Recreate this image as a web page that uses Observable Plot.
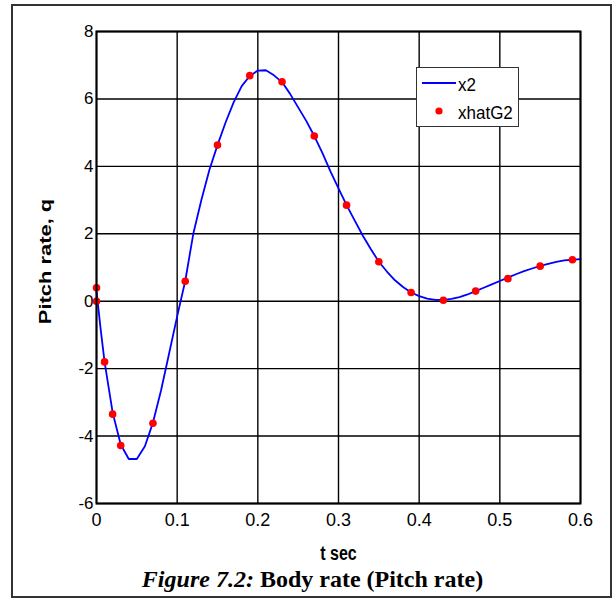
<!DOCTYPE html>
<html>
<head>
<meta charset="utf-8">
<script src="https://cdn.jsdelivr.net/npm/d3@7"></script>
<script src="https://cdn.jsdelivr.net/npm/@observablehq/plot@0.6"></script>
<style>
  body { margin: 0; background: #fff; }
  #wrap { position: relative; width: 613px; height: 601px; overflow: hidden; font-family: "Liberation Sans", Arial, sans-serif; }
  #border { position: absolute; left: 11px; top: 4px; width: 601px; height: 594px; border: 2px solid #333; box-sizing: border-box; }
  #chart { position: absolute; left: 0; top: 0; }
  #legend { position: absolute; left: 416px; top: 67px; width: 103px; height: 60px; border: 1.5px solid #333; box-sizing: border-box; background: #fff; }
  #legend svg { position: absolute; left: 0; top: 0; }
  .lt { position: absolute; left: 41px; font-size: 17px; color: #000; line-height: 20px; transform: scaleY(1.1); transform-origin: left center; }
  #caption { position: absolute; left: 0; top: 567px; width: 625px; text-align: center; font-family: "Liberation Serif", "Times New Roman", serif; font-weight: bold; font-size: 24px; line-height: 24px; color: #000; white-space: nowrap; }
</style>
</head>
<body>
<div id="wrap">
  <div id="border"></div>
  <div id="chart"></div>
  <div id="legend"></div>
  <div id="caption"><i>Figure 7.2:</i> Body rate (Pitch rate)</div>
</div>
<script>
// x2 curve (t, q)
const tLine = [0, 0.005, 0.01, 0.02, 0.03, 0.04, 0.05, 0.06, 0.07, 0.08, 0.09, 0.10, 0.11, 0.12, 0.13, 0.14, 0.15, 0.16, 0.17, 0.18, 0.19, 0.20, 0.21, 0.22, 0.23, 0.24, 0.25, 0.26, 0.27, 0.28, 0.29, 0.30, 0.31, 0.32, 0.33, 0.34, 0.35, 0.36, 0.37, 0.38, 0.39, 0.40, 0.41, 0.42, 0.43, 0.44, 0.45, 0.46, 0.47, 0.48, 0.49, 0.50, 0.51, 0.52, 0.53, 0.54, 0.55, 0.56, 0.57, 0.58, 0.59, 0.60];
const qLine = [0.3, -0.8, -1.8, -3.3, -4.25, -4.68, -4.68, -4.3, -3.6, -2.65, -1.55, -0.45, 0.6, 2.0, 3.0, 3.9, 4.63, 5.3, 5.9, 6.38, 6.68, 6.84, 6.85, 6.7, 6.5, 6.15, 5.75, 5.35, 4.9, 4.4, 3.85, 3.35, 2.85, 2.4, 1.95, 1.55, 1.17, 0.88, 0.62, 0.42, 0.26, 0.15, 0.08, 0.04, 0.04, 0.07, 0.12, 0.2, 0.3, 0.4, 0.5, 0.6, 0.7, 0.8, 0.89, 0.97, 1.05, 1.11, 1.17, 1.21, 1.23, 1.25];
// xhatG2 estimates
const tDots = [0, 0, 0.01, 0.02, 0.03, 0.07, 0.11, 0.15, 0.19, 0.23, 0.27, 0.31, 0.35, 0.39, 0.43, 0.47, 0.51, 0.55, 0.59];
const qDots = [0.4, 0, -1.8, -3.35, -4.28, -3.62, 0.59, 4.63, 6.69, 6.51, 4.9, 2.85, 1.17, 0.26, 0.03, 0.3, 0.67, 1.04, 1.23];
const xTicks = [0, 0.1, 0.2, 0.3, 0.4, 0.5, 0.6];
const yTicks = [-6, -4, -2, 0, 2, 4, 6, 8];
const seriesNames = ["x2", "xhatG2"];
const xLabel = "t sec";
const yLabel = "Pitch rate, q";

const lineData = tLine.map((t, i) => ({t, q: qLine[i]}));
const dotData = tDots.map((t, i) => ({t, q: qDots[i]}));

const chart = Plot.plot({
  width: 613,
  height: 601,
  marginLeft: 96,
  marginRight: 33,
  marginTop: 31,
  marginBottom: 98,
  style: {fontFamily: "'Liberation Sans', Arial, sans-serif", fontSize: "17px", color: "#000", background: "transparent"},
  x: {domain: [0, 0.6]},
  y: {domain: [-6, 8]},
  marks: [
    Plot.gridX(xTicks, {stroke: "#000", strokeOpacity: 1, strokeWidth: 1.4}),
    Plot.gridY(yTicks, {stroke: "#000", strokeOpacity: 1, strokeWidth: 1.4}),
    Plot.axisX(xTicks, {tickSize: 0, tickPadding: 10, fontSize: 18, tickFormat: d => String(d), label: null}),
    Plot.axisY(yTicks, {tickSize: 0, tickPadding: 3, fontSize: 17, tickFormat: d => String(d), label: null}),
    Plot.text([xLabel], {frameAnchor: "bottom", lineAnchor: "bottom", textAnchor: "middle", dy: 56, fontSize: 16, fontWeight: "bold", fill: "#000"}),
    Plot.text([yLabel], {frameAnchor: "left", rotate: -90, textAnchor: "middle", lineAnchor: "middle", dx: -51, dy: -6, fontSize: 16, fontWeight: "bold", fill: "#000"}),
    Plot.line(lineData, {x: "t", y: "q", stroke: "#0000ff", strokeWidth: 1.8}),
    Plot.dot(dotData, {x: "t", y: "q", r: 3.8, fill: "#ff0000", stroke: "none"}),
    Plot.frame({stroke: "#000", strokeWidth: 2})
  ]
});
document.getElementById("chart").appendChild(chart);

// mimic the stretched axis-label rendering of the source figure
chart.querySelectorAll("text").forEach(el => {
  const s = el.textContent;
  const tr = el.getAttribute("transform") || "";
  if (s === yLabel) el.setAttribute("transform", tr + " scale(1.37,1)");
  else if (s === xLabel) el.setAttribute("transform", tr + " scale(1,1.3)");
});

// legend
const leg = document.getElementById("legend");
leg.innerHTML = `<svg width="103" height="60"><line x1="5" x2="39" y1="15" y2="15" stroke="#0000ff" stroke-width="1.8"/><circle cx="22" cy="43" r="3.6" fill="#ff0000"/></svg>
<div class="lt" style="top:7px">${seriesNames[0]}</div>
<div class="lt" style="top:35px">${seriesNames[1]}</div>`;
</script>
</body>
</html>
